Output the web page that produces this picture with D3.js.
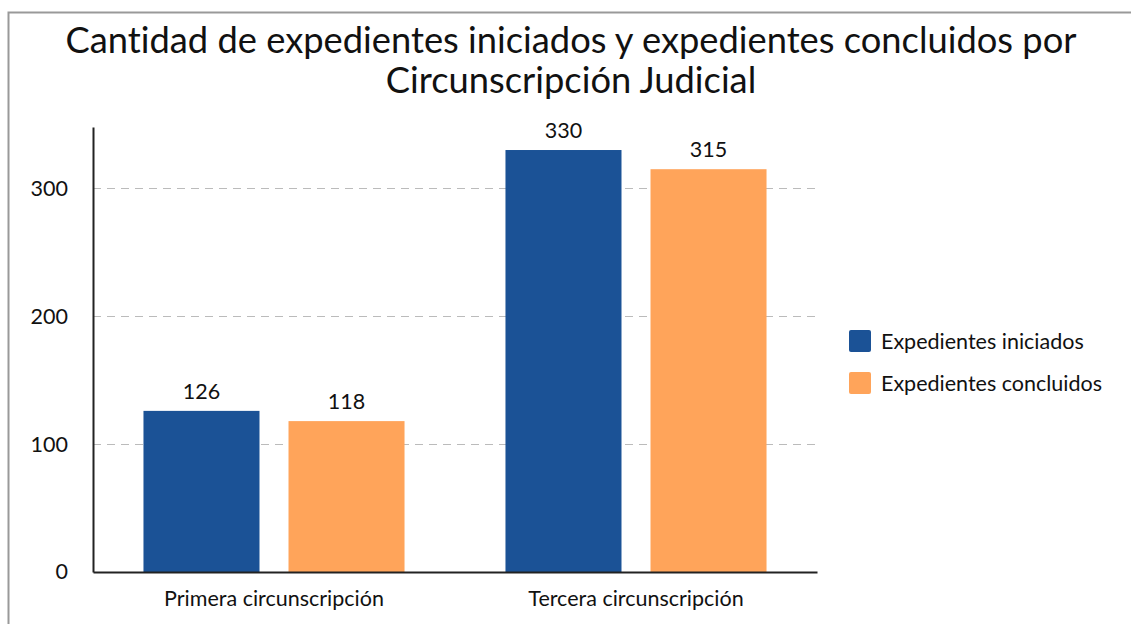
<!DOCTYPE html>
<html>
<head>
<meta charset="utf-8">
<script src="https://cdn.jsdelivr.net/npm/d3@7"></script>
<style>
  body { margin: 0; background: #fff; }
  svg { display: block; font-family: Lato, sans-serif; font-variant-ligatures: none; }
</style>
</head>
<body>
<div id="chart"></div>
<script>
// Data
const categories = ["Primera circunscripción", "Tercera circunscripción"];
const series = ["Expedientes iniciados", "Expedientes concluidos"];
const iniciados = [126, 330];
const concluidos = [118, 315];
const yTicks = [0, 100, 200, 300];
const yMax = 348;
const titleLines = ["Cantidad de expedientes iniciados y expedientes concluidos por", "Circunscripción Judicial"];

const colors = ["#1b5296", "#ffa45a"];

const W = 1131, H = 624;
const margin = { top: 127, left: 93, right: 314, bottom: 52 };
const width = W - margin.left - margin.right,
      height = H - margin.top - margin.bottom;

const svg = d3.select("#chart")
  .append("svg")
  .attr("width", W)
  .attr("height", H);

// outer frame
svg.append("rect")
  .attr("x", 8.5)
  .attr("y", 12.5)
  .attr("width", W + 20)
  .attr("height", H + 20)
  .attr("fill", "none")
  .attr("stroke", "#999")
  .attr("stroke-width", 2);

// title
svg.append("text")
  .attr("x", 571)
  .attr("text-anchor", "middle")
  .attr("font-size", 36.3)
  .attr("fill", "#111")
  .selectAll("tspan")
  .data(titleLines)
  .enter().append("tspan")
  .attr("x", 571)
  .attr("y", (d, i) => 53 + i * 40)
  .text(d => d);

const g = svg.append("g")
  .attr("transform", `translate(${margin.left},${margin.top})`);

const x0 = d3.scaleBand().domain(categories).range([0, width]);
const x1 = d3.scaleBand().domain(series).range([0, x0.bandwidth()])
  .paddingInner(0.2).paddingOuter(0.348);
const y = d3.scaleLinear().domain([0, yMax]).range([height, 0]);

// grid
g.selectAll(".grid")
  .data(yTicks.filter(d => d > 0))
  .enter().append("line")
  .attr("x1", 0)
  .attr("x2", width)
  .attr("y1", d => Math.round(y(d)) + 0.5)
  .attr("y2", d => Math.round(y(d)) + 0.5)
  .attr("stroke", "#bbb")
  .attr("stroke-width", 1)
  .attr("stroke-dasharray", "8,6");

const rows = categories.map((c, i) => ({ cat: c, values: [iniciados[i], concluidos[i]] }));

const groups = g.selectAll(".grp")
  .data(rows)
  .enter().append("g")
  .attr("transform", d => `translate(${x0(d.cat)},0)`);

groups.selectAll("rect")
  .data(d => d.values.map((v, i) => ({ s: series[i], v, i })))
  .enter().append("rect")
  .attr("x", d => x1(d.s))
  .attr("y", d => y(d.v))
  .attr("width", x1.bandwidth())
  .attr("height", d => height - y(d.v))
  .attr("fill", d => colors[d.i]);

groups.selectAll(".lbl")
  .data(d => d.values.map((v, i) => ({ s: series[i], v, i })))
  .enter().append("text")
  .attr("x", d => x1(d.s) + x1.bandwidth() / 2)
  .attr("y", d => y(d.v) - 12)
  .attr("text-anchor", "middle")
  .attr("font-size", 21.5)
  .attr("fill", "#111")
  .text(d => d.v);

// axes
const yAxis = g.append("g")
  .call(d3.axisLeft(y).tickValues(yTicks).tickSize(0).tickPadding(25));
yAxis.select(".domain").attr("stroke", "#222").attr("stroke-width", 2);
yAxis.selectAll("text").attr("font-size", 21.5).attr("fill", "#111").attr("font-family", "Lato, sans-serif");

const xAxis = g.append("g")
  .attr("transform", `translate(0,${height})`)
  .call(d3.axisBottom(x0).tickSize(0).tickPadding(19));
xAxis.select(".domain").attr("stroke", "#222").attr("stroke-width", 2);
xAxis.selectAll("text").attr("font-size", 21.5).attr("fill", "#111").attr("font-family", "Lato, sans-serif");

// legend
const legend = svg.append("g")
  .attr("transform", "translate(849,330)");
series.forEach((s, i) => {
  legend.append("rect")
    .attr("x", 0)
    .attr("y", i * 42)
    .attr("width", 22)
    .attr("height", 22)
    .attr("rx", 2)
    .attr("fill", colors[i]);
  legend.append("text")
    .attr("x", 32)
    .attr("y", i * 42 + 11)
    .attr("dy", "0.35em")
    .attr("font-size", 21.5)
    .attr("fill", "#111")
    .text(s);
});
</script>
</body>
</html>
